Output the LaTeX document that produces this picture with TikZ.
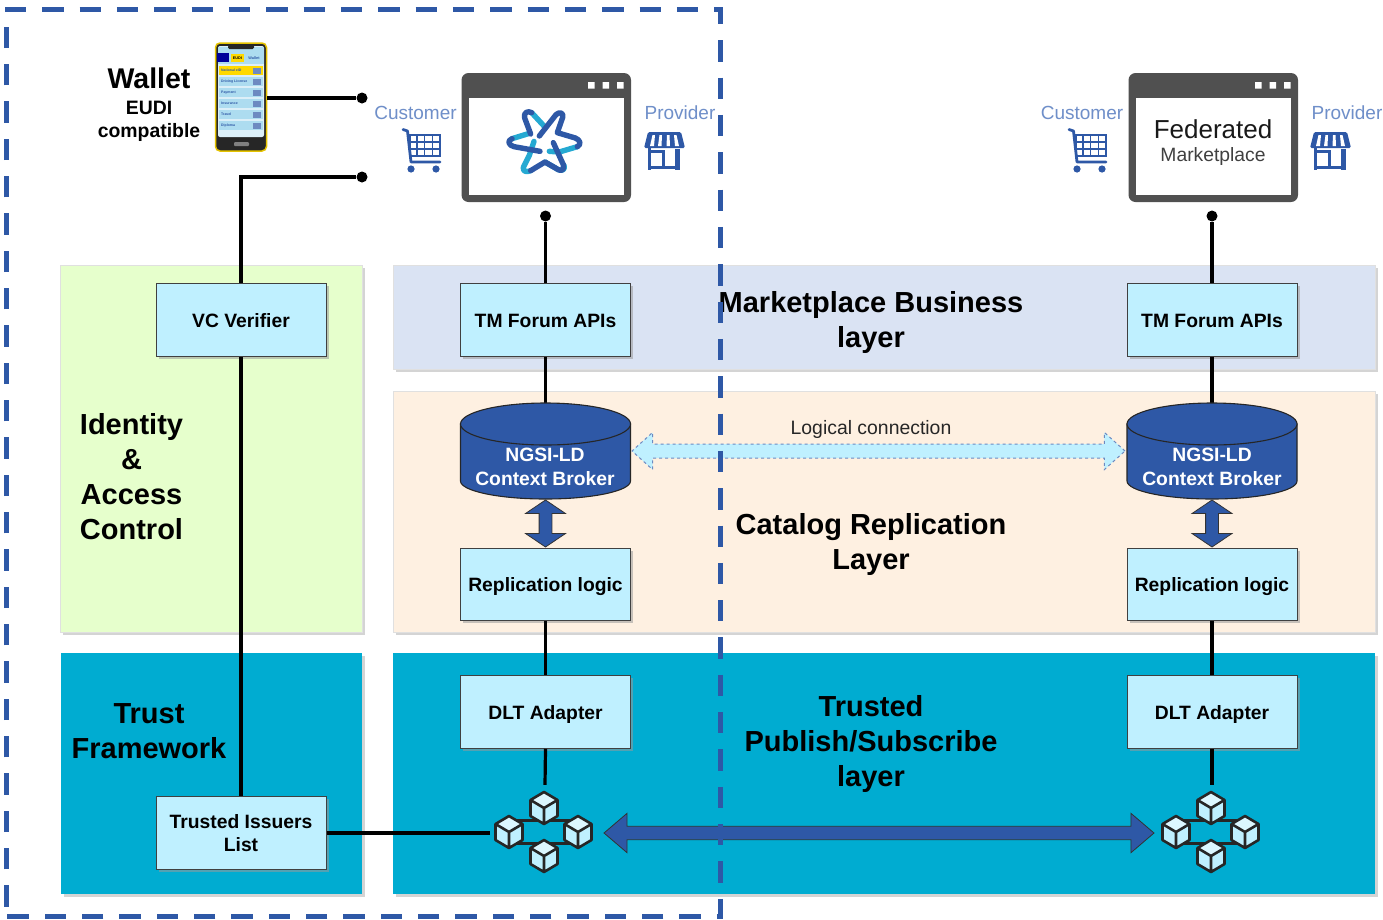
\documentclass[tikz,border=0pt]{standalone}
\usepackage{fontspec}
\setmainfont{Liberation Sans}
\usetikzlibrary{shapes.arrows,shadows,calc}
\definecolor{navy}{HTML}{2E58A6}
\definecolor{boxfill}{HTML}{BFF0FF}
\definecolor{bandblue}{HTML}{DAE3F3}
\definecolor{bandpeach}{HTML}{FEF0E1}
\definecolor{bandgreen}{HTML}{E6FFCC}
\definecolor{bandteal}{HTML}{00ACD1}
\definecolor{wingrey}{HTML}{505050}
\definecolor{labelblue}{HTML}{6F8FC9}
\definecolor{cyanlogo}{HTML}{25A9D2}
\definecolor{phonerow}{HTML}{ADDCF0}
\definecolor{phonescreen}{HTML}{DCEFF8}
\definecolor{phoneyellow}{HTML}{FFD900}
\newcommand{\fsz}[1]{\fontsize{#1}{#1}\selectfont}
\newcommand{\boxtxt}[1]{\raisebox{-7pt}[0pt][0pt]{#1}}
\tikzset{
  x=1pt,y=-1pt,
  band/.style={draw=black!12,line width=0.8pt,drop shadow={shadow xshift=2.5pt,shadow yshift=-2.5pt,fill=black!30,opacity=.55}},
  compbox/.style={draw=black!75,line width=1pt,fill=boxfill,minimum width=170pt,minimum height=72.5pt,inner sep=0pt,align=center,font=\bfseries\fsz{19.3},drop shadow={shadow xshift=2.5pt,shadow yshift=-2.5pt,fill=black!40,opacity=.55}},
  title/.style={font=\bfseries\fontsize{29}{35}\selectfont,align=center,inner sep=0pt},
  wire/.style={line width=3.2pt,black},
  dot/.style={circle,fill=black,minimum size=11pt,inner sep=0pt},
  role/.style={font=\fsz{19},text=labelblue,inner sep=0pt},
  cyl/.style={minimum width=170pt,minimum height=97pt,inner sep=0pt},
  solidarrow/.style={double arrow,draw=black!80,line width=0.8pt,fill=navy},
  chain/.style={minimum width=110pt,minimum height=96pt,inner sep=0pt},
  winframe/.pic={
    \fill[wingrey,rounded corners=7pt] (-84.5,-65) rectangle (85,64);
    \fill[white] (-77,-40) rectangle (78,57);
    \fill[white] (42,-56) rectangle +(6.5,6.5) (56.5,-56) rectangle +(6.5,6.5) (71,-56) rectangle +(6.5,6.5);
  },
  carticon/.pic={
    \draw[navy,line width=2.8pt,line cap=round,line join=round] (-21,-19.5) -- (-16.5,-18) -- (-13,13) -- (16,13);
    \draw[navy,line width=2.4pt] (-14,-14) rectangle (16,7);
    \draw[navy,line width=1.9pt] (-14,-7) -- (16,-7) (-14,0) -- (16,0) (-7,-14) -- (-7,7) (0.5,-14) -- (0.5,7) (8.5,-14) -- (8.5,7);
    \fill[navy] (-13,20) circle (3.6) (12,20) circle (3.6);
  },
  storeicon/.pic={
    \fill[navy,rounded corners=1.5pt] (-17,-17) -- (16,-17) -- (20,-1) -- (-21,-1) -- cycle;
    \fill[white] (-12.5,-14) -- (-10,-14) -- (-11,-3) -- (-15,-3) -- cycle
                 (-5.5,-14) -- (-3,-14) -- (-3.5,-3) -- (-7,-3) -- cycle
                 (2,-14) -- (4.5,-14) -- (5,-3) -- (1.5,-3) -- cycle
                 (9,-14) -- (11.5,-14) -- (14,-3) -- (10,-3) -- cycle;
    \draw[navy,line width=3pt] (-15.5,-1) -- (-15.5,18) -- (-1.5,18) -- (-1.5,2.5) -- (-15.5,2.5);
    \draw[navy,line width=3pt] (-15.5,18) -- (13,18);
    \draw[navy,line width=5pt] (12.5,0) -- (12.5,21);
    \draw[navy,line width=3pt] (-15.5,-1) -- (-15.5,21);
  },
  starlogo/.pic={
    \begin{scope}[shift={(-44,-41)},x=0.3333pt,y=-0.3333pt,line width=5.4pt,line cap=round,line join=round]
      \draw[cyanlogo] (85,95) -- (36,110);
      \draw[cyanlogo] (102,118) -- (88,160) -- (70,196) .. controls (68,208) and (78,212) .. (92,206);
      \draw[cyanlogo] (148,148) -- (178,150) -- (232,134);
      \draw[cyanlogo] (135,180) -- (175,203) .. controls (188,208) and (196,202) .. (192,190);
      \draw[cyanlogo] (95,32) -- (132,72);
      \draw[navy] (118,102) -- (168,38) .. controls (178,28) and (192,32) .. (188,46) -- (172,92) -- (226,108) .. controls (242,114) and (244,128) .. (232,134);
      \draw[navy] (120,148) -- (42,134) .. controls (26,130) and (20,116) .. (36,110);
      \draw[navy] (92,96) -- (74,48) .. controls (70,30) and (84,26) .. (95,32);
      \draw[navy] (160,122) -- (190,188) .. controls (194,204) and (184,208) .. (175,203) -- (135,180) -- (92,206);
    \end{scope}
  },
  cube/.pic={
    \fill[boxfill] (0,-16) -- (13.5,-8) -- (13.5,8) -- (0,16) -- (-13.5,8) -- (-13.5,-8) -- cycle;
    \fill[white!45!boxfill] (0,-16) -- (13.5,-8) -- (0,0) -- (-13.5,-8) -- cycle;
    \draw[black!85,line width=2.6pt,line join=round] (0,-16) -- (13.5,-8) -- (13.5,8) -- (0,16) -- (-13.5,8) -- (-13.5,-8) -- cycle (-13.5,-8) -- (0,0) -- (13.5,-8) (0,0) -- (0,16);
  },
  cubenet/.pic={
    \draw[black!85,line width=2.4pt] (-27,-12.5) rectangle (26,10.5);
    \pic at (-1,-25) {cube};
    \pic at (-36,-1) {cube};
    \pic at (33,-1) {cube};
    \pic at (-1,23) {cube};
  },
}
\begin{document}
\begin{tikzpicture}
\useasboundingbox (0,0) rectangle (1383,919);
\fill[white] (0,0) rectangle (1383,919);

% bands
\path[band,fill=bandgreen] (60,265) rectangle (362,632);
\path[band,fill=bandblue] (393,265) rectangle (1375,369);
\path[band,fill=bandpeach] (393,391) rectangle (1375,632);
\path[band,fill=bandteal,draw=none] (61,653) rectangle (362,894);
\path[band,fill=bandteal,draw=none] (393,653) rectangle (1375,894);

% band titles
\node[title] at (871,322.5) {Marketplace Business\\layer};
\node[title] at (871,544.5) {Catalog Replication\\Layer};
\node[title] at (871,743.5) {Trusted\\Publish/Subscribe\\layer};
\node[title] at (131.5,477) {Identity\\\&\\Access\\Control};
\node[title] at (149,731.5) {Trust\\Framework};

% wallet
\node[font=\bfseries\fsz{28.5},inner sep=0pt] (walletT) at (149,78) {Wallet};
\node[font=\bfseries\fontsize{19.4}{23}\selectfont,inner sep=0pt,align=center] (walletS) at (149,121.5) {EUDI\\compatible};
\node[draw=phoneyellow!90!black,line width=1.5pt,fill=black!85,rounded corners=4.5pt,minimum width=51pt,minimum height=108pt,inner sep=0pt] (phone) at (241,97) {};
\fill[phonescreen,rounded corners=2pt] (218,46) rectangle (264,137);
\fill[phonerow] (218,47) rectangle (264,64);
\fill[black!85,rounded corners=1.5pt] (228,45) rectangle (254,49);
\fill[blue!60!black] (217,53) rectangle (229,62);
\fill[phoneyellow] (231,54) rectangle (244,62);
\node[font=\bfseries\fsz{3.8},text=black,inner sep=0pt] at (237.5,58) {EUDI};
\node[font=\bfseries\fsz{3.8},text=navy,inner sep=0pt] at (254,58) {Wallet};
\fill[phoneyellow] (219,66) rectangle (263,75);
\foreach \yy in {77,88,99,110,121}{\fill[phonerow] (219,\yy) rectangle (263,\yy+9);}
\foreach \yy/\tx in {70.5/National eID,81.5/Driving License,92.5/Payment,103.5/Insurance,114.5/Travel,125.5/Diploma}{
  \node[font=\bfseries\fsz{3.5},text=navy,inner sep=0pt,anchor=west] at (221,\yy) {\tx};
  \fill[navy!70] (253,\yy-3) rectangle (261,\yy+3);
}
\fill[black!50,rounded corners=1pt] (234,142) rectangle (249,146);

% marketplace windows
\pic at (546,138) {winframe};
\pic at (544,143) {starlogo};
\pic at (1213,138) {winframe};
\node[font=\fsz{26},inner sep=0pt,text=black!90] (fedT) at (1213,129) {Federated};
\node[font=\fsz{19.3},inner sep=0pt,text=black!75] (fedS) at (1213,157) {Marketplace};

% roles
\node[role] (custA) at (415.5,113) {Customer};
\node[role] (provA) at (680,113) {Provider};
\node[role] (custB) at (1082,113) {Customer};
\node[role] (provB) at (1347,113) {Provider};
\pic at (424,149) {carticon};
\pic at (665,149) {storeicon};
\pic at (1090,149) {carticon};
\pic at (1331,149) {storeicon};

% named nodes
\node[compbox] (vc) at (241,320) {\boxtxt{VC Verifier}};
\node[compbox] (tmA) at (545.5,320) {\boxtxt{TM Forum APIs}};
\node[compbox] (tmB) at (1212,320) {\boxtxt{TM Forum APIs}};
\node[compbox] (repA) at (545.5,584.5) {\boxtxt{Replication logic}};
\node[compbox] (repB) at (1212,584.5) {\boxtxt{Replication logic}};
\node[compbox] (dltA) at (545.5,712) {\boxtxt{DLT Adapter}};
\node[compbox] (dltB) at (1212,712) {\boxtxt{DLT Adapter}};
\node[compbox] (til) at (241,833) {Trusted Issuers\\[3.5pt]List};

\node[dot] (dotPhone) at (362,98) {};
\node[dot] (dotVc) at (362,177) {};
\node[dot] (dotA) at (545.5,216) {};
\node[dot] (dotB) at (1212,216) {};

% connectors
\draw[wire] (phone.east |- dotPhone) -- (dotPhone);
\draw[wire] (dotVc) -| (vc.north);
\draw[wire] (vc.south) -- (til.north);
\draw[wire] (dotA) -- (tmA.north);
\draw[wire] (dotB) -- (tmB.north);

% cylinders
\node[cyl] (cbA) at (545.5,451.5) {};
\node[cyl] (cbB) at (1212,451.5) {};
\draw[wire] (tmA.south) -- (cbA.north);
\draw[wire] (tmB.south) -- (cbB.north);
\foreach \cx in {545.5,1212}{
  \filldraw[fill=navy,draw=black!85,line width=1.1pt] (\cx-85,424) -- (\cx-85,481) arc[start angle=180,end angle=360,x radius=85pt,y radius=18pt] -- (\cx+85,424) -- cycle;
  \filldraw[fill=navy,draw=black!85,line width=1.1pt] (\cx,424) ellipse [x radius=85pt,y radius=21pt];
}
\node[text=white,font=\bfseries\fontsize{19.3}{24}\selectfont,inner sep=0pt,align=center] at (545,467) {NGSI-LD\\Context Broker};
\node[text=white,font=\bfseries\fontsize{19.3}{24}\selectfont,inner sep=0pt,align=center] at (1212,467) {NGSI-LD\\Context Broker};

% chain networks
\node[chain] (chainA) at (545,833) {};
\node[chain] (chainB) at (1212,833) {};
\draw[wire] (repA.south) -- (dltA.north);
\draw[wire] (repB.south) -- (dltB.north);
\draw[wire] (dltA.south) -- (chainA.north);
\draw[wire] (dltB.south) -- (chainB.north);
\draw[wire] (til.east) -- (chainA.west);
\pic at (545,833) {cubenet};
\pic at (1212,833) {cubenet};

% block arrows
\node[solidarrow,inner sep=6pt,minimum height=47pt,double arrow head extend=13.5pt,double arrow tip angle=112,shape border rotate=90] (vA) at (545.5,523.5) {};
\node[solidarrow,inner sep=6pt,minimum height=47pt,double arrow head extend=13.5pt,double arrow tip angle=112,shape border rotate=90] (vB) at (1212,523.5) {};
\node[solidarrow,inner sep=6.3pt,minimum height=550pt,double arrow head extend=13pt,double arrow tip angle=81] (pubsub) at (879,833) {};
\node[double arrow,draw=navy!70,dashed,line width=1pt,fill=boxfill,inner sep=6.5pt,minimum height=493pt,double arrow head extend=11.5pt,double arrow tip angle=84] (logic) at (878.5,451) {};
\node[font=\fsz{19.4},inner sep=0pt,text=black!85] (logicL) at (871,429.5) {Logical connection};

% wallet frame
\draw[navy,line width=5pt,dash pattern=on 21.33pt off 16pt] (5,9.3) -- (720.7,9.3) -- (720.7,916) -- (6,916);
\draw[navy,line width=5pt,dash pattern=on 21.33pt off 16pt] (6,906.7) -- (6,20);
\end{tikzpicture}
\end{document}
